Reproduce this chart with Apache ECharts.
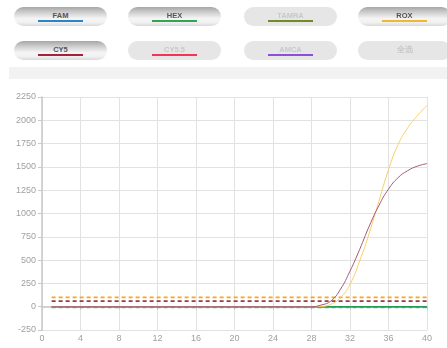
<!DOCTYPE html>
<html>
<head>
<meta charset="utf-8">
<script src="https://cdn.jsdelivr.net/npm/echarts@6/dist/echarts.min.js"></script>
<style>
  html, body { margin: 0; padding: 0; background: #fff; overflow: hidden; }
  #wrap { position: relative; width: 447px; height: 348px; }
  #chart { position: absolute; left: 0; top: 0; width: 447px; height: 348px; }
  .btn {
    position: absolute; width: 93px; height: 19px; border-radius: 10px;
    font-family: "Liberation Sans", Arial, sans-serif; font-weight: bold;
    font-size: 7.5px; text-align: center; line-height: 17px; color: #555;
    background: linear-gradient(to bottom, #a6a6a6 0%, #d0d0d0 30%, #f4f4f4 60%, #f2f2f2 80%, #dadada 100%);
    z-index: 2;
  }
  .btn.off { background: #e6e6e6; color: #c8c8c8; }
  .btn .bar { position: absolute; left: 24px; width: 45px; top: 13px; height: 2px; }
  #strip { position: absolute; left: 9px; top: 67px; width: 438px; height: 12px; background: #f2f2f2; z-index: 2; }
</style>
</head>
<body>
<div id="wrap">
  <div id="chart"></div>
  <div id="strip"></div>
</div>
<script>
// Channel selector buttons
const channels = ['FAM', 'HEX', 'TAMRA', 'ROX', 'CY5', 'CY5.5', 'AMCA', '全选'];
const channelColors = ['#2a86c6', '#2fa556', '#738a2c', '#f2b632', '#a3243a', '#f0345a', '#8d4fd6', null];
const channelOn = [true, true, false, true, true, false, false, false];

// Cycles 1..40
const cycles = [1,2,3,4,5,6,7,8,9,10,11,12,13,14,15,16,17,18,19,20,
                21,22,23,24,25,26,27,28,29,30,31,32,33,34,35,36,37,38,39,40];

// Fluorescence per cycle
const famValues = [0,0,0,0,0,0,0,0,0,0,0,0,0,0,0,0,0,0,0,0,
                   0,0,0,0,0,0,0,0,0,0,0,0,0,0,0,0,0,0,0,0];
const hexValues = [0,0,0,0,0,0,0,0,0,0,0,0,0,0,0,0,0,0,0,0,
                   0,0,0,0,0,0,0,0,0,0,0,0,0,0,0,0,0,0,0,0];
const roxValues = [0,0,0,0,0,0,0,0,0,0,0,0,0,0,0,0,0,0,0,0,
                   0,0,0,0,0,0,0,0,3,25,96,240,490,790,1130,1470,1740,1920,2050,2160];
const cy5Values = [0,0,0,0,0,0,0,0,0,0,0,0,0,0,0,0,0,0,0,0,
                   0,0,0,0,0,0,0,0,18,60,186,382,614,864,1085,1262,1385,1460,1508,1535];

// Threshold levels
const roxThreshold = 100;
const cy5Threshold = 60;
const hexThreshold = -8;

// Axis ticks
const xTicks = { min: 0, max: 40, step: 4 };
const yTicks = { min: -250, max: 2250, step: 250 };

// Build buttons
const wrap = document.getElementById('wrap');
const btnLeft = [14, 128, 244, 358];
const btnTop = [7, 41];
channels.forEach((name, i) => {
  const b = document.createElement('div');
  b.className = 'btn' + (channelOn[i] ? '' : ' off');
  b.style.left = btnLeft[i % 4] + 'px';
  b.style.top = btnTop[Math.floor(i / 4)] + 'px';
  const label = document.createElement('span');
  label.textContent = name;
  b.appendChild(label);
  if (channelColors[i]) {
    const bar = document.createElement('div');
    bar.className = 'bar';
    bar.style.backgroundColor = channelColors[i];
    b.appendChild(bar);
  }
  wrap.appendChild(b);
});

const pairs = (vals) => cycles.map((c, i) => [c, vals[i]]);
const flat = (v) => cycles.map(c => [c, v]);

const chart = echarts.init(document.getElementById('chart'), null, { renderer: 'canvas' });
const axisText = { color: '#a0a0a0', fontSize: 9, fontFamily: 'Liberation Sans, Arial, sans-serif',
                   formatter: (v) => String(v) };
chart.setOption({
  animation: false,
  grid: { left: 42, right: 20, top: 97, bottom: 18, containLabel: false },
  xAxis: {
    type: 'value', min: xTicks.min, max: xTicks.max, interval: xTicks.step,
    axisLine: { lineStyle: { color: '#c8c8c8', width: 1.5 } },
    axisTick: { show: true, length: 3, lineStyle: { color: '#c8c8c8' } },
    axisLabel: Object.assign({ margin: 4 }, axisText),
    splitLine: { show: true, lineStyle: { color: '#e2e2e2', width: 1 } }
  },
  yAxis: {
    type: 'value', min: yTicks.min, max: yTicks.max, interval: yTicks.step,
    axisLine: { show: true, lineStyle: { color: '#c8c8c8', width: 1.5 } },
    axisTick: { show: true, length: 4, lineStyle: { color: '#c8c8c8' } },
    axisLabel: Object.assign({ margin: 6 }, axisText),
    splitLine: { show: true, lineStyle: { color: '#e2e2e2', width: 1 } }
  },
  series: [
    { name: 'HEX threshold', type: 'line', data: flat(hexThreshold), symbol: 'none',
      lineStyle: { color: '#5cc08a', width: 1.4, type: [4, 3] } },
    { name: 'FAM', type: 'line', data: pairs(famValues), symbol: 'none',
      lineStyle: { color: '#2a86c6', width: 1.3 } },
    { name: 'HEX', type: 'line', data: pairs(hexValues), symbol: 'none',
      lineStyle: { color: '#249a55', width: 1.6 } },
    { name: 'ROX threshold', type: 'line', data: flat(roxThreshold), symbol: 'none',
      lineStyle: { color: '#f4a81e', width: 1.6, type: [4, 3] } },
    { name: 'CY5 threshold', type: 'line', data: flat(cy5Threshold), symbol: 'none',
      lineStyle: { color: '#a3364a', width: 1.6, type: [4, 3] } },
    { name: 'ROX', type: 'line', data: pairs(roxValues), symbol: 'none', smooth: 0.5,
      lineStyle: { color: '#f7cf62', width: 1 } },
    { name: 'CY5', type: 'line', data: pairs(cy5Values), symbol: 'none', smooth: 0.5,
      lineStyle: { color: '#a4567e', width: 1 } }
  ]
});
</script>
</body>
</html>
